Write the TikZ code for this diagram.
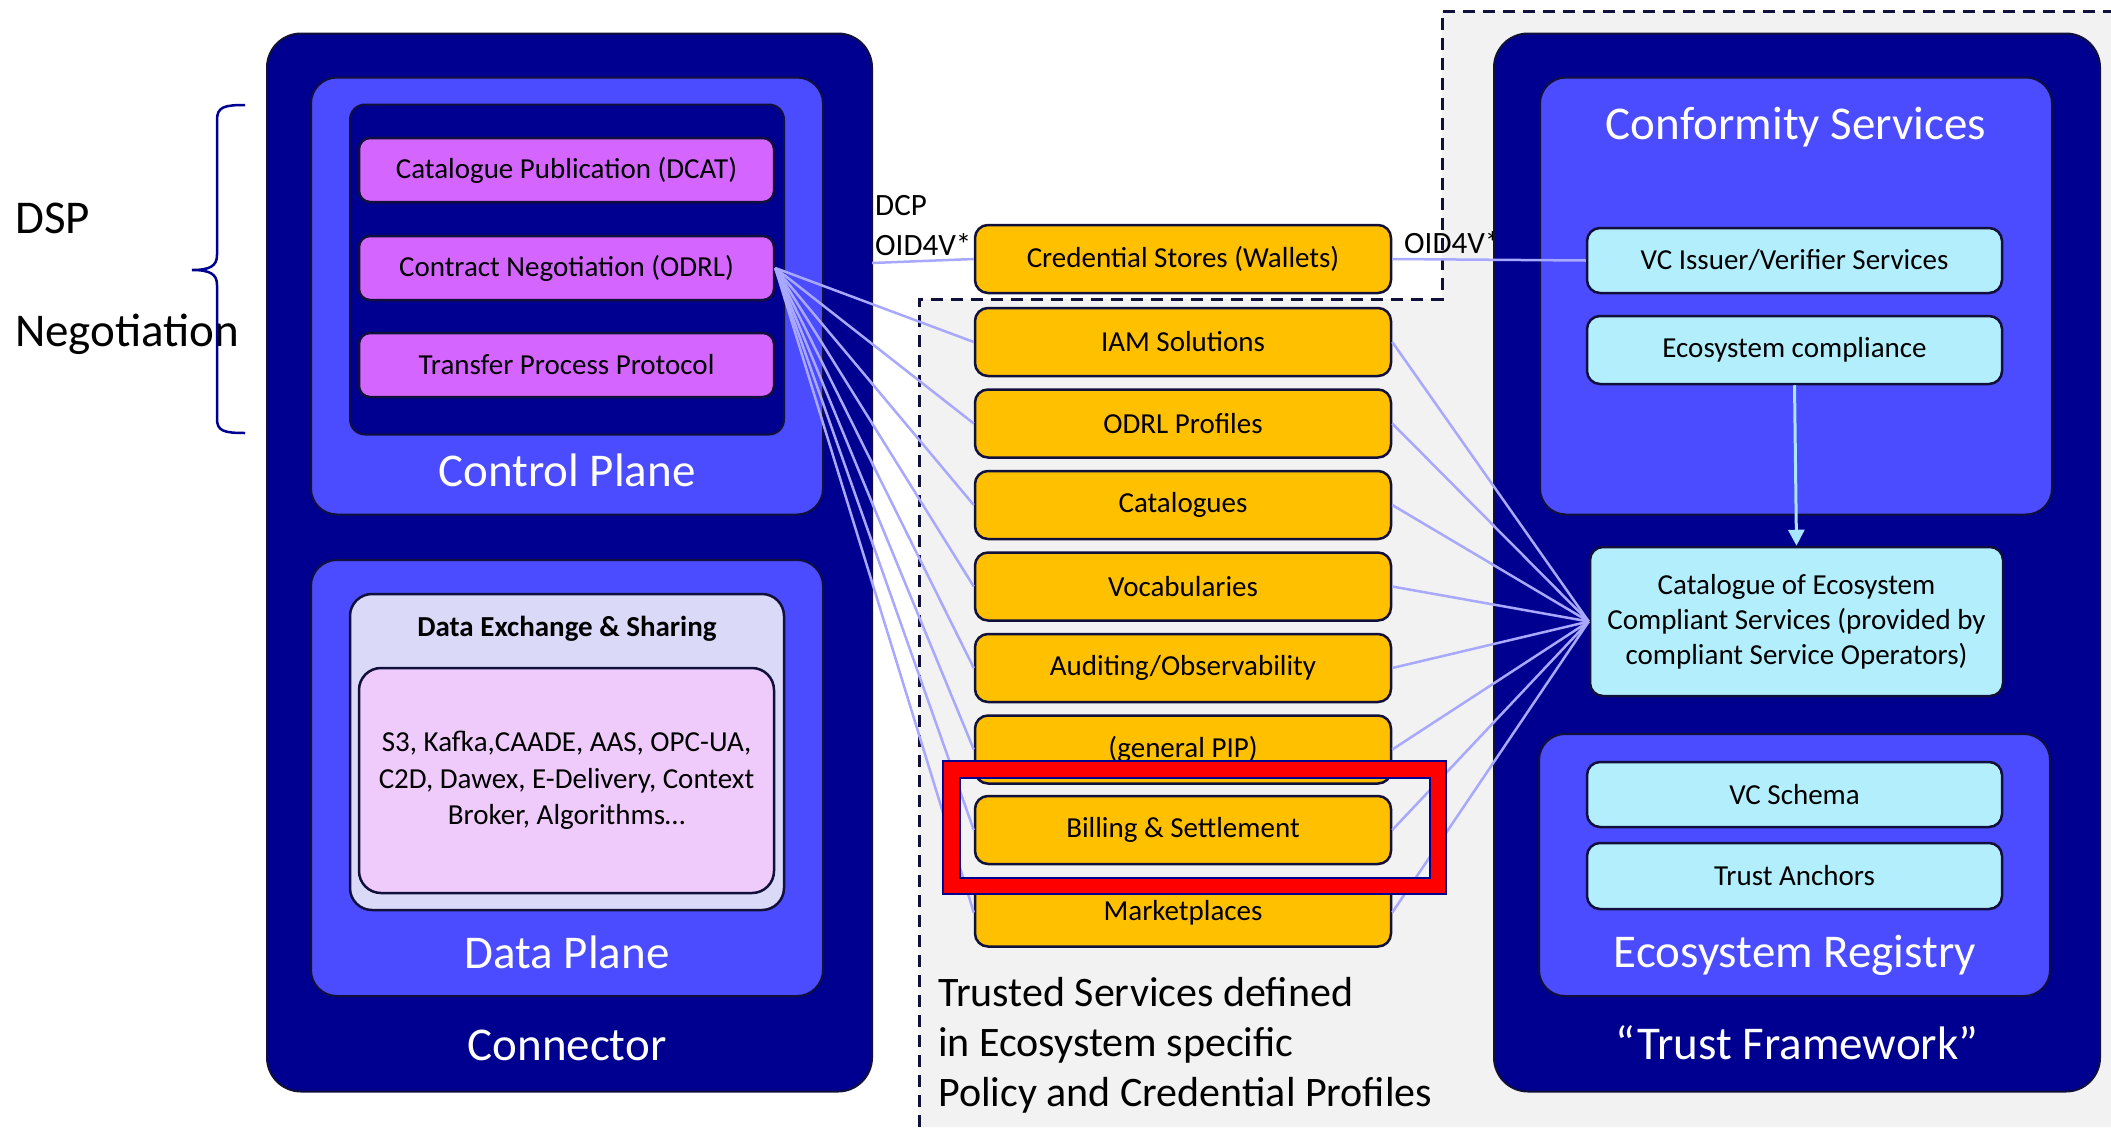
\documentclass[tikz,border=0pt]{standalone}
\usepackage{fontspec}
\setmainfont{Carlito}
\usetikzlibrary{arrows.meta}
\definecolor{navy}{HTML}{000090}
\definecolor{midblue}{HTML}{4B4BFF}
\definecolor{purp}{HTML}{D565FF}
\definecolor{lav}{HTML}{DADAF8}
\definecolor{pinkish}{HTML}{EFCBFB}
\definecolor{yel}{HTML}{FFC000}
\definecolor{cyanish}{HTML}{B3EEFD}
\definecolor{bgray}{HTML}{F2F2F2}
\definecolor{edgec}{HTML}{10103A}
\definecolor{linkc}{HTML}{A8A8FF}
\definecolor{arrowc}{HTML}{A8E6FF}
\begin{document}
\begin{tikzpicture}[x=1pt,y=-1pt,
  outerbox/.style={rectangle, fill=navy, draw=edgec, line width=2pt, rounded corners=34pt, inner sep=0pt},
  midbox/.style={rectangle, fill=midblue, draw=edgec, line width=2pt, rounded corners=26pt, inner sep=0pt},
  darkbox/.style={rectangle, fill=navy, draw=edgec, line width=2pt, rounded corners=15pt, inner sep=0pt},
  pbox/.style={rectangle, fill=purp, draw=edgec, line width=2.5pt, rounded corners=11pt, inner sep=0pt,
    minimum width=415pt, minimum height=64pt, font=\fontsize{29}{35}\selectfont},
  ybox/.style={rectangle, fill=yel, draw=edgec, line width=2.5pt, rounded corners=13pt, inner sep=0pt,
    minimum width=416pt, minimum height=68pt, font=\fontsize{29}{35}\selectfont},
  cbox/.style={rectangle, fill=cyanish, draw=edgec, line width=2.5pt, rounded corners=13pt, inner sep=0pt,
    minimum width=415pt, minimum height=66pt, font=\fontsize{29}{35}\selectfont, align=center},
  title/.style={text=white, font=\fontsize{47}{56}\selectfont, inner sep=0pt},
  lbl/.style={font=\fontsize{31}{37}\selectfont, inner sep=0pt, anchor=west},
  link/.style={draw=linkc, line width=2.5pt},
]
\useasboundingbox (0,0) rectangle (2111,1127);

% grey trusted-service area
\fill[bgray] (919,1127) -- (919,299) -- (1442,299) -- (1442,11) -- (2111,11) -- (2111,1127) -- cycle;
\draw[edgec, line width=3pt, dash pattern=on 12pt off 8pt] (919,1127) -- (919,299) -- (1442,299) -- (1442,11) -- (2111,11);

% left labels and brace
\node[lbl, font=\fontsize{47}{56}\selectfont] (dsp) at (15,218) {DSP};
\node[lbl, font=\fontsize{47}{56}\selectfont] (neg) at (15,334) {Negotiation};
\draw[navy, line width=2.5pt] (245,105) .. controls (224,105) and (217,107) .. (217,120) -- (217,255)
  .. controls (217,266) and (210,270) .. (192,270)
  .. controls (210,270) and (217,274) .. (217,285) -- (217,419)
  .. controls (217,431) and (224,433) .. (245,433);

% Connector
\node[outerbox, minimum width=605pt, minimum height=1058pt] (conn) at (569.5,562.5) {};
\node[midbox, minimum width=512pt, minimum height=437pt] (cp) at (567,296) {};
\node[darkbox, minimum width=434pt, minimum height=330pt] (cpin) at (567,269.5) {};
\node[pbox] (dcat) at (566.5,170) {Catalogue Publication (DCAT)};
\node[pbox] (cn) at (566.5,268) {Contract Negotiation (ODRL)};
\node[pbox] (tpp) at (566.5,365) {Transfer Process Protocol};
\node[title] (cpt) at (567,470) {Control Plane};
\node[midbox, minimum width=512pt, minimum height=436pt] (dp) at (567,778) {};
\node[rectangle, fill=lav, draw=edgec, line width=2.5pt, rounded corners=22pt, minimum width=434pt, minimum height=316pt] (dex) at (567,752) {};
\node[font=\fontsize{29}{35}\selectfont\bfseries, inner sep=0pt] (dext) at (567,629) {Data Exchange \& Sharing};
\node[rectangle, fill=pinkish, draw=edgec, line width=2.5pt, rounded corners=22pt, minimum width=415pt, minimum height=225pt,
  align=center, font=\fontsize{29}{36.5}\selectfont] (pink) at (566.5,780.5) {S3, Kafka,CAADE, AAS, OPC-UA,\\C2D, Dawex, E-Delivery, Context\\Broker, Algorithms…};
\node[title] (dpt) at (567,952) {Data Plane};
\node[title] (connt) at (567,1045) {Connector};

% middle column
\node[ybox] (cred) at (1183,259) {Credential Stores (Wallets)};
\node[ybox] (iam) at (1183,342) {IAM Solutions};
\node[ybox] (odrl) at (1183,423.5) {ODRL Profiles};
\node[ybox] (cats) at (1183,505) {Catalogues};
\node[ybox] (voc) at (1183,586.5) {Vocabularies};
\node[ybox] (aud) at (1183,668) {Auditing/Observability};
\node[ybox] (pip) at (1183,749.5) {(general PIP)};
\node[ybox] (bill) at (1183,830) {Billing \& Settlement};
\node[ybox] (mkt) at (1183,912.5) {Marketplaces};

\node[lbl] (dcp) at (875,206) {DCP};
\node[lbl] (oidl) at (875,245) {OID4V*};
\node[lbl] (oidr) at (1404,243) {OID4V*};

\node[anchor=west, align=left, inner sep=0pt, font=\fontsize{42}{50}\selectfont] (trusted) at (938,1045)
  {Trusted Services defined\\in Ecosystem specific\\Policy and Credential Profiles};

% Trust framework
\node[outerbox, minimum width=606pt, minimum height=1058pt] (tf) at (1797,562.5) {};
\node[midbox, minimum width=512pt, minimum height=437pt] (cs) at (1796,296) {};
\node[title] (cst) at (1796,127) {Conformity Services};
\node[cbox, minimum height=65pt] (vci) at (1794.5,260.5) {VC Issuer/Verifier Services};
\node[cbox, minimum height=68pt] (eco) at (1794.5,350) {Ecosystem compliance};
\node[cbox, minimum width=413pt, minimum height=149pt, font=\fontsize{29}{35}\selectfont] (catal) at (1796.5,621.5)
  {Catalogue of Ecosystem\\Compliant Services (provided by\\compliant Service Operators)};
\node[midbox, minimum width=511pt, minimum height=262pt] (er) at (1794.5,865) {};
\node[cbox, minimum height=65pt] (vcs) at (1794.5,794.5) {VC Schema};
\node[cbox, minimum height=66pt] (ta) at (1794.5,876) {Trust Anchors};
\node[title] (ert) at (1795,955) {Ecosystem Registry};
\node[title] (tft) at (1797,1043) {“Trust Framework”};

% connectors
\coordinate (connout) at (872,263);
\draw[link] (connout) -- (cred.west);
\draw[link] (cred.east) -- (vci.west);
\foreach \b in {iam,odrl,cats,voc,aud,pip,bill,mkt}{
  \draw[link] (cn.east) -- (\b.west);
  \draw[link] (\b.east) -- (catal.west);
}
\draw[arrowc, line width=3pt, -{Triangle[length=16pt,width=16pt]}] (eco.south) -- (catal.north);

% red highlight
\fill[red, even odd rule] (943,761) rectangle (1446,894) (960,778) rectangle (1430,878);
\draw[navy, line width=2pt] (943,761) rectangle (1446,894);
\draw[navy, line width=2pt] (960,778) rectangle (1430,878);
\end{tikzpicture}
\end{document}
